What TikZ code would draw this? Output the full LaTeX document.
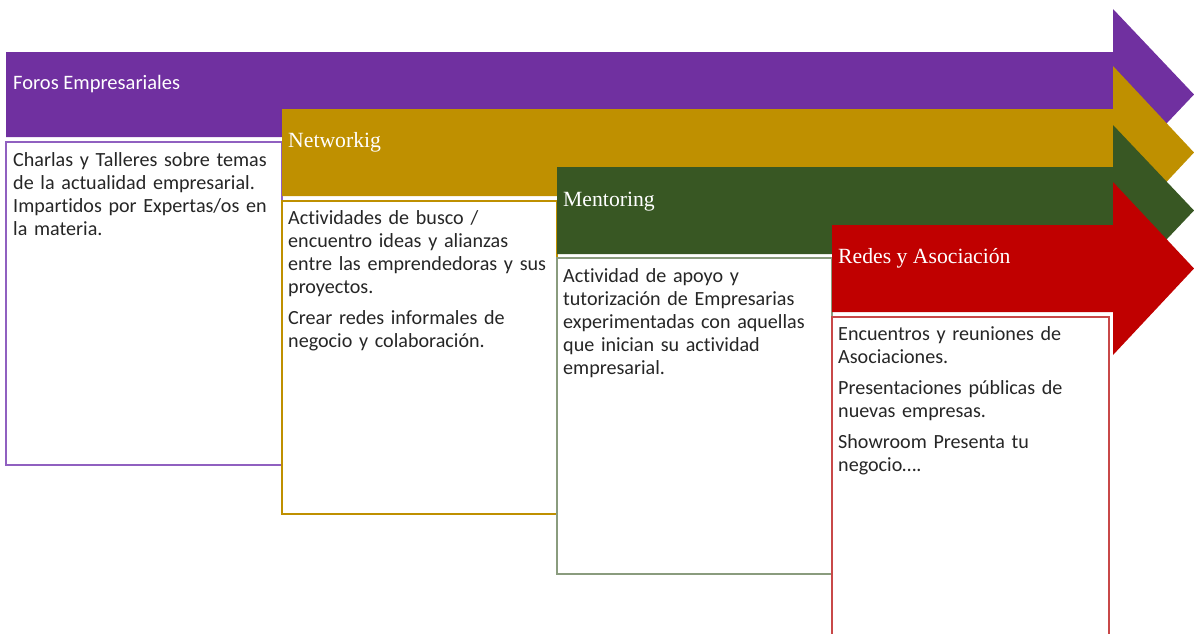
\documentclass[tikz,border=0pt]{standalone}
\usepackage{fontspec}
\setmainfont{Liberation Serif}
\newfontfamily\bodyf[Ligatures={NoCommon,NoRare},RawFeature={-liga;-dlig}]{Carlito}
\definecolor{cpur}{HTML}{7030A0}
\definecolor{cgold}{HTML}{BF9000}
\definecolor{cgrn}{HTML}{385723}
\definecolor{cred}{HTML}{C00000}
\definecolor{bpur}{HTML}{9060C0}
\definecolor{bgold}{HTML}{BF9000}
\definecolor{bgrn}{HTML}{8A9C7E}
\definecolor{bred}{HTML}{C84848}
\definecolor{ctext}{HTML}{262626}
\tikzset{
  bodytext/.style={anchor=base west, inner sep=0pt, text width=268pt, align=left,
    font=\bodyf\fontsize{20.1}{23}\selectfont, text=ctext},
  titletext/.style={anchor=base west, inner sep=0pt, text=white,
    font=\fontsize{21.7}{26}\selectfont},
  titlesans/.style={anchor=base west, inner sep=0pt, text=white,
    font=\bodyf\fontsize{20.5}{26}\selectfont},
  boxframe/.style={line width=1.3pt, fill=white}
}
\begin{document}
\begin{tikzpicture}[x=1pt,y=-1pt]
\useasboundingbox (0,0) rectangle (1194,633);
\begin{scope}
\clip (0,0) rectangle (1194,633);
% purple
\fill[cpur] (6,52) -- (1113,52) -- (1113,9) -- (1194,94.5) -- (1113,180) -- (1113,137) -- (6,137) -- cycle;
\draw[boxframe, draw=bpur] (6,142) rectangle (282,465);
\node[titlesans] (t1) at (13,89) {Foros Empresariales};
\node[bodytext] (x1) at (13,166) {Charlas y Talleres sobre temas\\de la actualidad empresarial.\\Impartidos por Expertas/os en\\la materia.};
% gold
\fill[cgold] (282,109) -- (1113,109) -- (1113,66) -- (1194,152.5) -- (1113,239) -- (1113,196) -- (282,196) -- cycle;
\draw[boxframe, draw=bgold] (282,201) rectangle (557,514);
\node[titletext] (t2) at (288,147) {Networkig};
\node[bodytext] (x2) at (288,224) {Actividades de busco /\\encuentro ideas y alianzas\\entre las emprendedoras y sus\\proyectos.\\[8pt]Crear redes informales de\\negocio y colaboración.};
% green
\fill[cgrn] (557,167) -- (1113,167) -- (1113,125) -- (1194,210.5) -- (1113,296) -- (1113,254) -- (557,254) -- cycle;
\draw[boxframe, draw=bgrn] (557,258) rectangle (832,574);
\node[titletext] (t3) at (563,206) {Mentoring};
\node[bodytext] (x3) at (563,282) {Actividad de apoyo y\\tutorización de Empresarias\\experimentadas con aquellas\\que inician su actividad\\empresarial.};
% red
\fill[cred] (832,225) -- (1113,225) -- (1113,182) -- (1194,268.5) -- (1113,355) -- (1113,312) -- (832,312) -- cycle;
\draw[boxframe, draw=bred] (832,317) rectangle (1109,645);
\node[titletext] (t4) at (838,263) {Redes y Asociación};
\node[bodytext] (x4) at (838,340) {Encuentros y reuniones de\\Asociaciones.\\[8pt]Presentaciones públicas de\\nuevas empresas.\\[8pt]Showroom Presenta tu\\negocio….};
\end{scope}
\end{tikzpicture}
\end{document}
